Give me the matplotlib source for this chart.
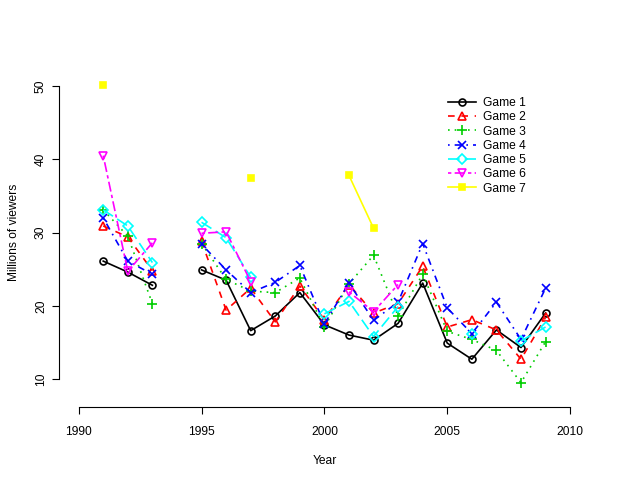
import numpy as np
import matplotlib
matplotlib.use("Agg")
import matplotlib.pyplot as plt

nan = np.nan

years = [1991, 1992, 1993, 1994, 1995, 1996, 1997, 1998, 1999, 2000,
         2001, 2002, 2003, 2004, 2005, 2006, 2007, 2008, 2009]

game1 = [26.1, 24.6, 22.8, nan, 24.9, 23.5, 16.6, 18.6, 21.8, 17.4,
         16.0, 15.3, 17.6, 23.1, 14.9, 12.7, 16.7, 14.3, 19.0]
game2 = [30.9, 29.4, 24.8, nan, 28.8, 19.4, 22.4, 17.8, 22.7, 18.1,
         22.9, 19.0, 20.3, 25.4, 17.1, 18.1, 16.7, 12.7, 18.4]
game3 = [33.1, 29.5, 20.3, nan, 28.5, 23.6, 22.0, 21.8, 23.8, 17.1,
         23.0, 26.9, 18.6, 24.3, 16.5, 15.4, 13.9, 9.5, 15.1]
game4 = [32.0, 26.1, 24.3, nan, 28.4, 24.9, 21.8, 23.2, 25.5, 17.5,
         23.1, 18.0, 20.5, 28.5, 19.7, 16.2, 20.5, 15.4, 22.4]
game5 = [33.1, 30.9, 25.9, nan, 31.4, 29.3, 23.9, nan, nan, 18.9,
         20.6, 15.8, 19.9, nan, nan, 16.1, nan, 15.2, 17.1]
game6 = [40.5, 24.7, 28.6, nan, 29.9, 30.1, 23.3, nan, nan, nan,
         21.9, 19.2, 22.9, nan, nan, nan, nan, nan, nan]
game7 = [50.2, nan, nan, nan, nan, nan, 37.5, nan, nan, nan,
         37.8, 30.6, nan, nan, nan, nan, nan, nan, nan]

labels = ["Game 1", "Game 2", "Game 3", "Game 4", "Game 5", "Game 6", "Game 7"]
series = [game1, game2, game3, game4, game5, game6, game7]

# R palette 1:7, line types and pch like matplot
colors = ["black", "#FF0000", "#00CD00", "#0000FF", "#00FFFF", "#FF00FF", "#FFFF00"]
dashes = [None, (4, 4), (1, 3), (1, 3, 4, 3), (7, 3), (2, 2, 6, 2), None]
markers = ["o", "^", "+", "x", "D", "v", "s"]
msizes = [5, 6, 7, 5.5, 4.6, 6, 4.6]

plt.rcParams["font.family"] = ["Liberation Sans", "DejaVu Sans"]
fs = 8.64

fig = plt.figure(figsize=(6.2, 4.8), dpi=100)
ax = fig.add_axes([59 / 620, 73.4 / 480, 530.8 / 620, 347.6 / 480])

for i, (vals, lab) in enumerate(zip(series, labels)):
    line, = ax.plot(years, vals, color=colors[i], lw=1.2, marker=markers[i],
                    ms=msizes[i], mew=1.2,
                    mfc=colors[i] if markers[i] == "s" else "none",
                    label=lab)
    if dashes[i] is not None:
        line.set_dashes(dashes[i])

ax.set_xlim(1989.2, 2010.8)
ax.set_ylim(6.23, 53.7)

for s in ["top", "right"]:
    ax.spines[s].set_visible(False)
ax.spines["bottom"].set_bounds(1990, 2010)
ax.spines["left"].set_bounds(10, 50)
ax.spines["bottom"].set_linewidth(0.8)
ax.spines["left"].set_linewidth(0.8)

ax.set_xticks([1990, 1995, 2000, 2005, 2010])
ax.set_yticks([10, 20, 30, 40, 50])
ax.tick_params(axis="both", length=5.2, width=0.8, labelsize=fs)
ax.tick_params(axis="x", pad=9)
ax.tick_params(axis="y", pad=3.5)
for t in ax.get_yticklabels():
    t.set_rotation(90)
    t.set_va("center")

ax.set_xlabel("Year", fontsize=fs, labelpad=12)
ax.set_ylabel("Millions of viewers", fontsize=fs, labelpad=11)

ax.legend(loc="upper left", bbox_to_anchor=(442 / 620, 1 - 91 / 480),
          bbox_transform=fig.transFigure, frameon=False, fontsize=fs,
          borderpad=0, handlelength=2.3, handletextpad=0.6, labelspacing=0.19)

fig.savefig("out.png", dpi=100)
